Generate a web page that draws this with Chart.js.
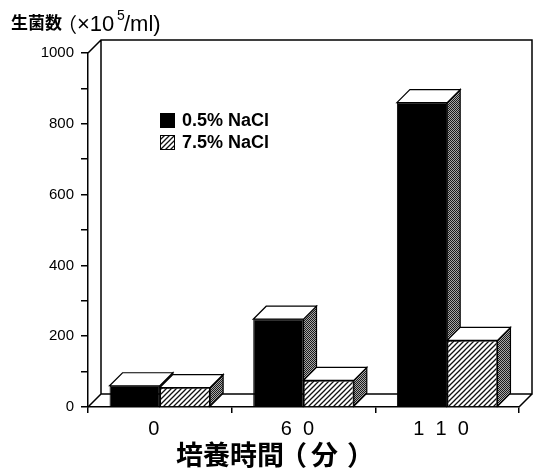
<!DOCTYPE html>
<html>
<head>
<meta charset="utf-8">
<script src="https://cdn.jsdelivr.net/npm/chart.js@4.4.1/dist/chart.umd.min.js"></script>
<style>
  html, body { margin: 0; padding: 0; background: #fff; }
</style>
</head>
<body>
<canvas id="countChart" width="536" height="472"></canvas>
<script>
// culture time (min) vs viable count (x10^5/ml)
const timeLabels = ['0', '60', '110'];
const seriesNames = ['0.5% NaCl', '7.5% NaCl'];
const lowSaltCounts = [60, 248, 860];
const highSaltCounts = [55, 75, 188];
const yLabelValues = [0, 200, 400, 600, 800, 1000];

const DEPTH = 13;
const canvas = document.getElementById('countChart');
const ctx = canvas.getContext('2d');

function makeHatch() {
    const c = document.createElement('canvas');
    c.width = 5; c.height = 5;
    const g = c.getContext('2d');
    g.fillStyle = '#fff';
    g.fillRect(0, 0, 5, 5);
    g.strokeStyle = '#111';
    g.lineWidth = 1.3;
    g.beginPath();
    g.moveTo(-1, 6); g.lineTo(6, -1);
    g.moveTo(-1, 1); g.lineTo(1, -1);
    g.moveTo(4, 6); g.lineTo(6, 4);
    g.stroke();
    return ctx.createPattern(c, 'repeat');
}

function makeStipple() {
    const c = document.createElement('canvas');
    c.width = 2; c.height = 2;
    const g = c.getContext('2d');
    g.fillStyle = '#a8a8a8';
    g.fillRect(0, 0, 2, 2);
    g.fillStyle = '#1a1a1a';
    g.fillRect(0, 0, 1, 1);
    g.fillRect(1, 1, 1, 1);
    return ctx.createPattern(c, 'repeat');
}

const hatch = makeHatch();
const stipple = makeStipple();

// side + top faces of a dataset's bars
function drawFaces(chart, index) {
    const c = chart.ctx;
    const meta = chart.getDatasetMeta(index);
    c.save();
    c.strokeStyle = '#000';
    c.lineWidth = 1.2;
    meta.data.forEach(bar => {
        const { x, y, base, width } = bar.getProps(['x', 'y', 'base', 'width'], true);
        const l = x - width / 2, r = x + width / 2;
        c.beginPath();
        c.moveTo(r, y);
        c.lineTo(r + DEPTH, y - DEPTH);
        c.lineTo(r + DEPTH, base - DEPTH);
        c.lineTo(r, base);
        c.closePath();
        c.fillStyle = stipple;
        c.fill();
        c.stroke();
        c.beginPath();
        c.moveTo(l, y);
        c.lineTo(l + DEPTH, y - DEPTH);
        c.lineTo(r + DEPTH, y - DEPTH);
        c.lineTo(r, y);
        c.closePath();
        c.fillStyle = '#fff';
        c.fill();
        c.stroke();
    });
    c.restore();
}

const box3d = {
    id: 'box3d',
    beforeDatasetsDraw(chart) {
        const c = chart.ctx;
        const a = chart.chartArea;
        c.save();
        c.strokeStyle = '#000';
        c.lineWidth = 1.5;
        c.beginPath();
        // left wall + back wall + floor
        c.moveTo(a.left, a.top);
        c.lineTo(a.left + DEPTH, a.top - DEPTH);
        c.lineTo(a.right + DEPTH, a.top - DEPTH);
        c.lineTo(a.right + DEPTH, a.bottom - DEPTH);
        c.lineTo(a.left + DEPTH, a.bottom - DEPTH);
        c.lineTo(a.left + DEPTH, a.top - DEPTH);
        c.moveTo(a.left, a.bottom);
        c.lineTo(a.left + DEPTH, a.bottom - DEPTH);
        c.moveTo(a.right, a.bottom);
        c.lineTo(a.right + DEPTH, a.bottom - DEPTH);
        c.stroke();
        c.restore();
        drawFaces(chart, 0);
    },
    afterDatasetsDraw(chart) {
        drawFaces(chart, 1);
    },
    afterDraw(chart) {
        const c = chart.ctx;
        c.save();
        c.fillStyle = '#000';
        c.textBaseline = 'middle';
        // y title
        c.font = 'bold 17px "Noto Sans CJK JP"';
        c.fillText('生菌数', 11, 23);
        c.font = '20px "Noto Sans CJK JP"';
        c.fillText('（', 57, 24);
        c.font = '22px "Liberation Sans"';
        c.fillText('×10', 77, 25);
        c.font = '14px "Liberation Sans"';
        c.fillText('5', 117, 16);
        c.font = '22px "Liberation Sans"';
        c.fillText('/ml)', 124, 25);
        // x title
        c.font = 'bold 27px "Noto Sans CJK JP"';
        c.fillText('培養時間', 176, 455);
        c.fillText('（', 280, 455);
        c.fillText('分', 311, 455);
        c.fillText('）', 347, 455);
        // legend
        chart.data.datasets.forEach((ds, i) => {
            const ly = 113 + i * 22;
            c.fillStyle = ds.backgroundColor;
            c.fillRect(160, ly, 15, 15);
            c.strokeStyle = '#000';
            c.lineWidth = 1;
            c.strokeRect(160.5, ly + 0.5, 14, 14);
            c.fillStyle = '#000';
            c.font = 'bold 18px "Liberation Sans"';
            c.fillText(ds.label, 182, ly + 8);
        });
        c.restore();
    }
};

new Chart(ctx, {
    type: 'bar',
    data: {
        labels: timeLabels,
        datasets: [
            {
                label: seriesNames[0],
                data: lowSaltCounts,
                backgroundColor: '#000',
                borderColor: '#000',
                borderWidth: 1
            },
            {
                label: seriesNames[1],
                data: highSaltCounts,
                backgroundColor: hatch,
                borderColor: '#000',
                borderWidth: 1.2
            }
        ]
    },
    options: {
        responsive: false,
        animation: false,
        events: [],
        layout: { padding: { top: 53, right: 17, left: 0, bottom: 0 } },
        datasets: {
            bar: { barPercentage: 1, categoryPercentage: 0.7 }
        },
        plugins: {
            legend: { display: false },
            tooltip: { enabled: false }
        },
        scales: {
            x: {
                afterFit(s) { s.height = 65; },
                grid: { drawOnChartArea: false, drawTicks: true, tickLength: 6, color: '#000', lineWidth: 1.5 },
                border: { display: true, color: '#000', width: 1.5 },
                ticks: {
                    color: '#000',
                    padding: 4,
                    labelOffset: -6,
                    font: { family: 'Liberation Sans', size: 20 },
                    callback(v, i) { return timeLabels[i].split('').join('  '); }
                }
            },
            y: {
                min: 0,
                max: 1000,
                afterFit(s) { s.width = 88; },
                grid: { drawOnChartArea: false, drawTicks: true, tickLength: 7, color: '#000', lineWidth: 1.5 },
                border: { display: true, color: '#000', width: 1.5 },
                ticks: {
                    stepSize: 100,
                    color: '#000',
                    padding: 7,
                    font: { family: 'Liberation Sans', size: 15 },
                    callback(v) { return yLabelValues.includes(v) ? String(v) : ''; }
                }
            }
        }
    },
    plugins: [box3d]
});
</script>
</body>
</html>
